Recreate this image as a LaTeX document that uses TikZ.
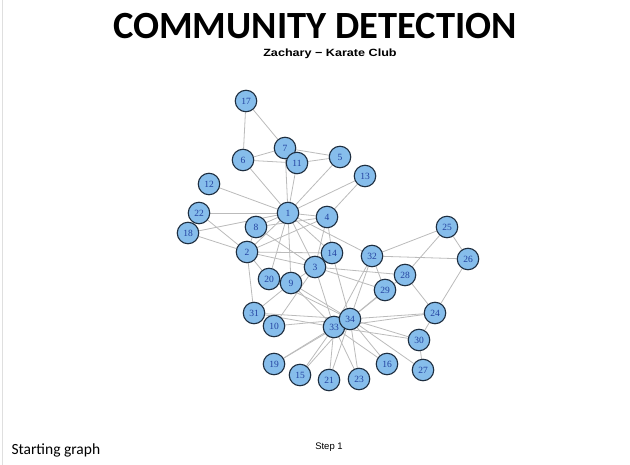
\documentclass[tikz,border=0pt]{standalone}
\usepackage{fontspec}
\setmainfont{Liberation Serif}
\newfontfamily\carlito{Carlito}
\newfontfamily\arialf{Liberation Sans}
\usetikzlibrary{backgrounds}
\definecolor{nodefill}{HTML}{86BDEB}
\definecolor{nodeborder}{HTML}{1E2E40}
\definecolor{nodetext}{HTML}{2342A0}
\definecolor{edgecol}{HTML}{BBBBBB}
\tikzset{
  vtx/.style={circle, draw=nodeborder, fill=nodefill, line width=1.1pt,
    minimum size=21.5pt, inner sep=0pt, text=nodetext, font=\fontsize{9.5}{9.5}\selectfont},
  edg/.style={draw=edgecol, line width=0.8pt},
  titletext/.style={inner sep=0pt, font=\carlito\bfseries\fontsize{38.5}{38.5}\selectfont},
}
\begin{document}
\begin{tikzpicture}[x=1pt,y=-1pt]
\useasboundingbox (0,0) rectangle (630,465);
\draw[gray!25, line width=0.8pt] (2.5,0) coordinate (lt) -- (2.5,465) coordinate (lb);
\node[titletext] (title) at (315,26.5) {COMMUNITY DETECTION};
\node[inner sep=0pt, xscale=1.2, font=\arialf\bfseries\fontsize{10.5}{10.5}\selectfont] (sub) at (330,54) {Zachary − Karate Club};
\node[font=\carlito\fontsize{15.5}{15.5}\selectfont, anchor=west] (start) at (8,450) {Starting graph};
\node[font=\arialf\fontsize{9.5}{9.5}\selectfont] (step) at (329,447) {Step 1};

\node[vtx] (n17) at (246,101) {17};
\node[vtx] (n7) at (285,148) {7};
\node[vtx] (n6) at (243,160) {6};
\node[vtx] (n11) at (297,163) {11};
\node[vtx] (n5) at (340,157) {5};
\node[vtx] (n13) at (365,176) {13};
\node[vtx] (n12) at (209,184) {12};
\node[vtx] (n22) at (199,213) {22};
\node[vtx] (n1) at (288,213) {1};
\node[vtx] (n4) at (327,217) {4};
\node[vtx] (n18) at (188,233) {18};
\node[vtx] (n8) at (256,227) {8};
\node[vtx] (n2) at (247,252) {2};
\node[vtx] (n14) at (332,253) {14};
\node[vtx] (n32) at (372,256) {32};
\node[vtx] (n25) at (447,227) {25};
\node[vtx] (n26) at (468,259) {26};
\node[vtx] (n3) at (315,267) {3};
\node[vtx] (n20) at (269,279) {20};
\node[vtx] (n9) at (291,283) {9};
\node[vtx] (n28) at (405,275) {28};
\node[vtx] (n29) at (385,290) {29};
\node[vtx] (n24) at (435,313) {24};
\node[vtx] (n31) at (254,313) {31};
\node[vtx] (n10) at (274,326) {10};
\node[vtx] (n30) at (419,340) {30};
\node[vtx] (n33) at (334,327) {33};
\node[vtx] (n34) at (350,319) {34};
\node[vtx] (n19) at (274,364) {19};
\node[vtx] (n15) at (300,375) {15};
\node[vtx] (n21) at (329,380) {21};
\node[vtx] (n23) at (359,379) {23};
\node[vtx] (n16) at (387,364) {16};
\node[vtx] (n27) at (423,370) {27};

\begin{scope}[on background layer]
\foreach \a/\b in {1/2,1/3,1/4,1/5,1/6,1/7,1/8,1/9,1/11,1/12,1/13,1/14,1/18,1/20,1/22,1/32,
  2/3,2/4,2/8,2/14,2/18,2/20,2/22,2/31,
  3/4,3/8,3/9,3/10,3/14,3/28,3/29,3/33,
  4/8,4/13,4/14,5/7,5/11,6/7,6/11,6/17,7/17,
  9/31,9/33,9/34,10/34,14/34,15/33,15/34,16/33,16/34,19/33,19/34,20/34,
  21/33,21/34,23/33,23/34,24/26,24/28,24/30,24/33,24/34,
  25/26,25/28,25/32,26/32,27/30,27/34,28/34,29/32,29/34,
  30/33,30/34,31/33,31/34,32/33,32/34,33/34}
  \draw[edg] (n\a) -- (n\b);
\end{scope}
\end{tikzpicture}
\end{document}
